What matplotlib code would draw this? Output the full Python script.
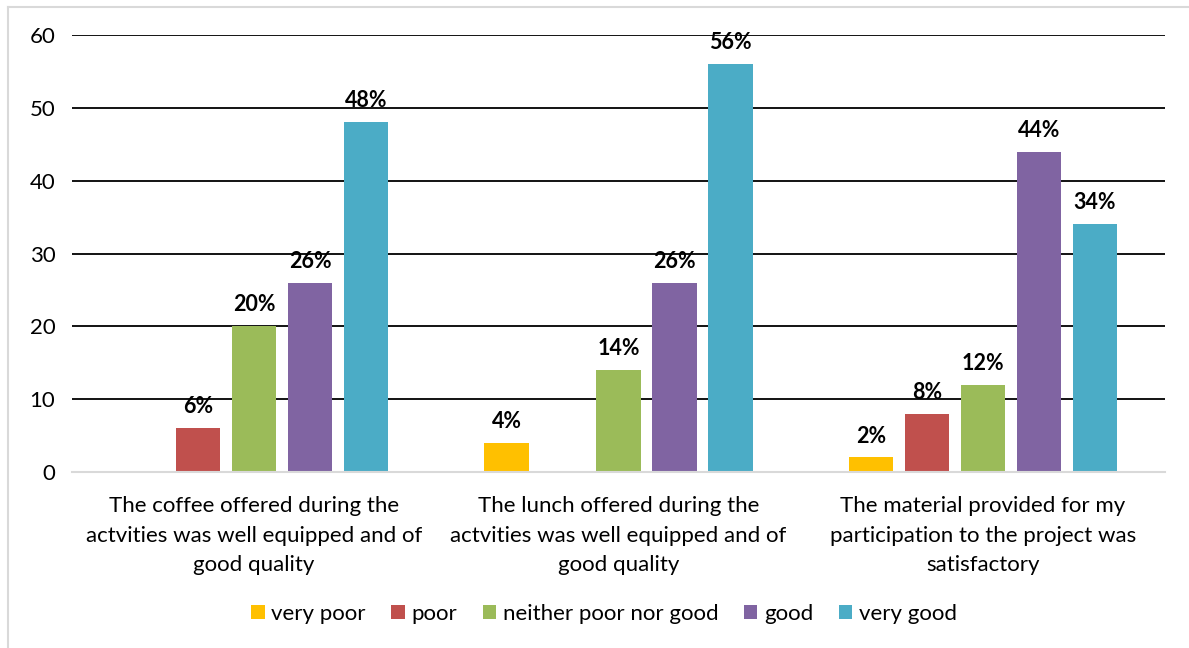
import matplotlib
matplotlib.use("Agg")
import matplotlib.pyplot as plt
import numpy as np

categories = [
    "The coffee offered during the\nactvities was well equipped and of\ngood quality",
    "The lunch offered during the\nactvities was well equipped and of\ngood quality",
    "The material provided for my\nparticipation to the project was\nsatisfactory",
]
series_names = ["very poor", "poor", "neither poor nor good", "good", "very good"]
very_poor = [0, 4, 2]
poor = [6, 0, 8]
neither = [20, 14, 12]
good = [26, 26, 44]
very_good = [48, 56, 34]
colors = ["#FFC000", "#C0504D", "#9BBB59", "#8064A2", "#4BACC6"]
y_ticks = [0, 10, 20, 30, 40, 50, 60]

plt.rcParams["font.family"] = ["Lato", "DejaVu Sans"]

fig = plt.figure(figsize=(11.89, 6.48), dpi=100)
ax = fig.add_axes([72 / 1189, 1 - 472 / 648, (1165 - 72) / 1189, (472 - 35) / 648])

x = np.arange(len(categories))
slot = 0.1537
width = 0.121
all_series = [very_poor, poor, neither, good, very_good]
for i, (name, vals, col) in enumerate(zip(series_names, all_series, colors)):
    pos = x + (i - 2) * slot
    ax.bar(pos, vals, width=width, color=col, label=name, zorder=3)
    for px, v in zip(pos, vals):
        if v > 0:
            ax.text(px, v + 1.5, f"{v}%", ha="center", va="bottom",
                    fontsize=15.5, fontweight="bold", color="black", zorder=4)

ax.set_xlim(-0.5, 2.5)
ax.set_ylim(0, 60)
ax.set_yticks(y_ticks)
ax.set_yticklabels([str(t) for t in y_ticks], fontsize=16)
ax.yaxis.grid(True, color="black", linewidth=1.3, zorder=0)
ax.set_axisbelow(True)
ax.tick_params(axis="y", length=0, pad=12)
ax.tick_params(axis="x", length=0, pad=17)
ax.set_xticks(x)
ax.set_xticklabels(categories, fontsize=16, linespacing=1.62)
for s in ["top", "right", "left"]:
    ax.spines[s].set_visible(False)
ax.spines["bottom"].set_color("#D9D9D9")
ax.spines["bottom"].set_linewidth(1.5)
ax.spines["bottom"].set_zorder(5)
# hide the gridline at 0 so the light baseline shows
ax.get_ygridlines()[0].set_visible(False)

leg = fig.legend(loc="center", bbox_to_anchor=(604 / 1189, 1 - 614 / 648), ncol=5,
                 frameon=False, fontsize=16, handlelength=0.6, handleheight=0.6,
                 handletextpad=0.3, columnspacing=1.15)

# outer chart border (left and top edges)
fig.add_artist(plt.Line2D([8 / 1189, 8 / 1189], [0, 1 - 7 / 648],
                          transform=fig.transFigure, color="#D9D9D9", linewidth=1.5))
fig.add_artist(plt.Line2D([8 / 1189, 1], [1 - 7 / 648, 1 - 7 / 648],
                          transform=fig.transFigure, color="#D9D9D9", linewidth=1.5))

fig.savefig("out.png", dpi=100)
